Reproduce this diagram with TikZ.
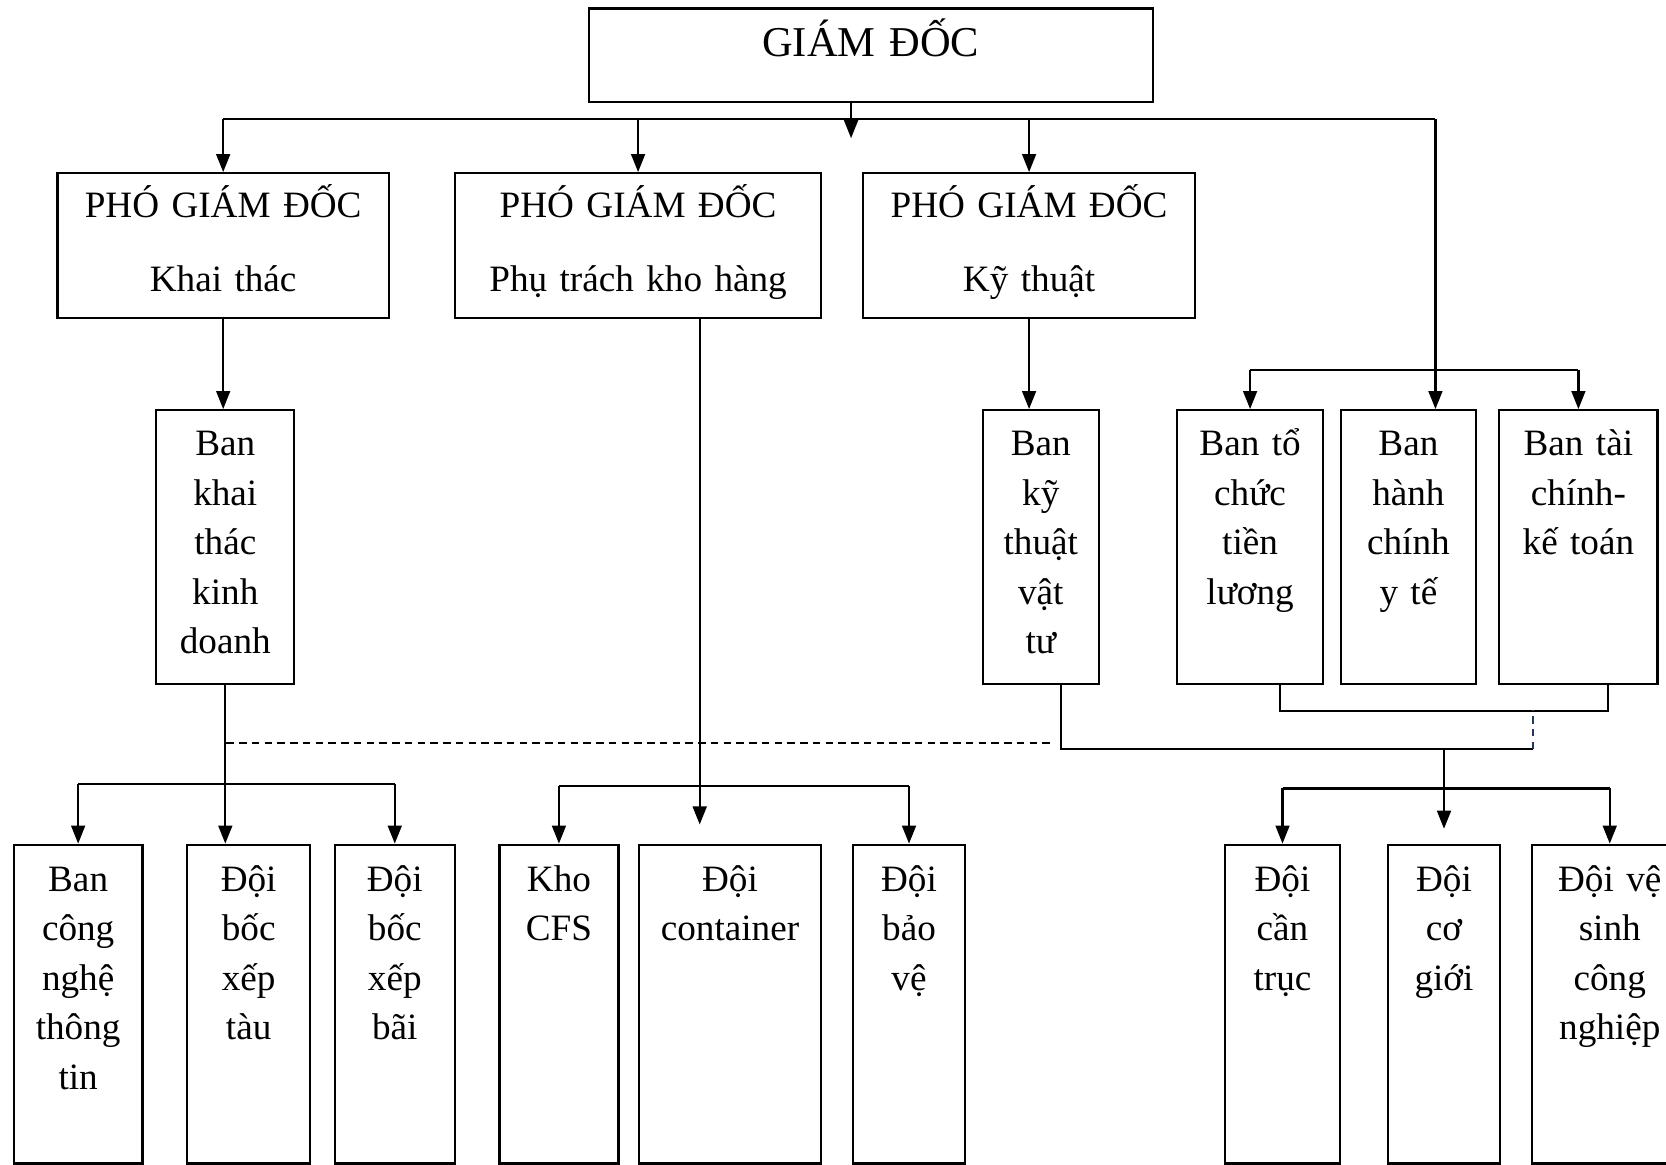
\documentclass[tikz,border=0pt]{standalone}
\usepackage{fontspec}
\setmainfont{Liberation Serif}
\usetikzlibrary{arrows.meta}
\definecolor{dashblue}{RGB}{35,55,95}

\begin{document}
\begin{tikzpicture}[
  x=1pt, y=-1pt,
  font=\fontsize{35}{46.5}\selectfont,
  line width=2.1pt,
  box/.style={draw, anchor=north west, inner sep=0pt, align=center},
  head/.style={box, text height=45pt, text depth=43pt},
  dep/.style={box, text height=42pt, text depth=94pt},
  ban/.style={box, text height=43pt, text depth=215pt},
  doi/.style={box, text height=44pt, text depth=256pt},
  arr/.style={-{Triangle[length=17pt, width=13pt]}},
  dline/.style={dash pattern=on 7pt off 5pt, line width=1.5pt}
]
\useasboundingbox (0,0) rectangle (1568,1096);

% giam doc va cac pho giam doc
\node[head, text width=531pt, font=\fontsize{40}{48}\selectfont] (gd) at (553,7) {GIÁM ĐỐC};
\node[dep, text width=312pt] (pkt) at (53,162) {PHÓ GIÁM ĐỐC\\[23pt]Khai thác};
\node[dep, text width=345pt] (pkh) at (427,162) {PHÓ GIÁM ĐỐC\\[23pt]Phụ trách kho hàng};
\node[dep, text width=313pt] (pky) at (811,162) {PHÓ GIÁM ĐỐC\\[23pt]Kỹ thuật};

% cac ban
\node[ban, text width=130pt] (bkd) at (146,385) {Ban\\khai\\thác\\kinh\\doanh};
\node[ban, text width=109pt] (bvt) at (924,385) {Ban\\kỹ\\thuật\\vật\\tư};
\node[ban, text width=137pt] (btl) at (1107,385) {Ban tổ\\chức\\tiền\\lương};
\node[ban, text width=127pt] (bhc) at (1261,385) {Ban\\hành\\chính\\y tế};
\node[ban, text width=149pt] (bkt) at (1410,385) {Ban tài\\chính-\\kế toán};

% cac doi
\node[doi, text width=121pt] (cntt) at (12,794) {Ban\\công\\nghệ\\thông\\tin};
\node[doi, text width=116pt] (bxt) at (175,794) {Đội\\bốc\\xếp\\tàu};
\node[doi, text width=113pt] (bxb) at (314,794) {Đội\\bốc\\xếp\\bãi};
\node[doi, text width=112pt] (cfs) at (469,794) {Kho\\CFS};
\node[doi, text width=172pt] (cont) at (600,794) {Đội\\container};
\node[doi, text width=105pt] (bv) at (802,794) {Đội\\bảo\\vệ};
\node[doi, text width=108pt] (ct) at (1152,794) {Đội\\cần\\trục};
\node[doi, text width=106pt] (cg) at (1305,794) {Đội\\cơ\\giới};
\node[doi, text width=146pt] (vs) at (1441,794) {Đội vệ\\sinh\\công\\nghiệp};

% diem re nhanh
\coordinate (top) at (801,112);
\coordinate (rb) at (1351,112);
\coordinate (rbus) at (1351,348);
\coordinate (lbus) at (211,738);
\coordinate (mbus) at (686,740);
\coordinate (dl) at (213,699);
\coordinate (dr) at (988,699);
\coordinate (kx) at (1443,705);
\coordinate (rb2) at (1358,742);
\coordinate (khx) at ([xshift=58pt]pkh.south);
\coordinate (vx) at ([xshift=19pt]bvt.south);

% giam doc -> pho giam doc
\draw[arr] (gd.south -| top) -- ++(0,33);
\draw (pkt.north |- top) -- (rb);
\foreach \n in {pkt,pkh,pky}
  \draw[arr] (\n.north |- top) -- (\n.north);
\draw[arr] (rb) -- (rb |- bhc.north);
\draw (btl.north |- rbus) -- (bkt.north |- rbus);
\draw[arr] (btl.north |- rbus) -- (btl.north);
\draw[arr] (bkt.north |- rbus) -- (bkt.north);

% pho giam doc -> ban
\draw[arr] (pkt.south) -- (pkt.south |- bkd.north);
\draw[arr] (pky.south) -- (pky.south |- bvt.north);
\draw[arr, shorten >=18pt] (khx) -- (khx |- cont.north);

% ban -> doi
\draw[arr] (bkd.south) -- (bkd.south |- bxt.north);
\draw (cntt.north |- lbus) -- (bxb.north |- lbus);
\draw[arr] (cntt.north |- lbus) -- (cntt.north);
\draw[arr] (bxb.north |- lbus) -- (bxb.north);

\draw (cfs.north |- mbus) -- (bv.north |- mbus);
\draw[arr] (cfs.north |- mbus) -- (cfs.north);
\draw[arr] (bv.north |- mbus) -- (bv.north);

\draw[dline] (dl) -- (dr);
\draw (vx) |- (kx);
\draw ([xshift=28pt]btl.south) -- ++(0,24) -| ([xshift=28pt]bkt.south);
\draw[dline, dashblue] (kx) -- ++(0,-37);
\draw[arr, shorten >=14pt] (cg.north |- kx) -- (cg.north);

\draw (ct.north |- rb2) -- (vs.north |- rb2);
\draw[arr] (ct.north |- rb2) -- (ct.north);
\draw[arr] (vs.north |- rb2) -- (vs.north);
\end{tikzpicture}
\end{document}
